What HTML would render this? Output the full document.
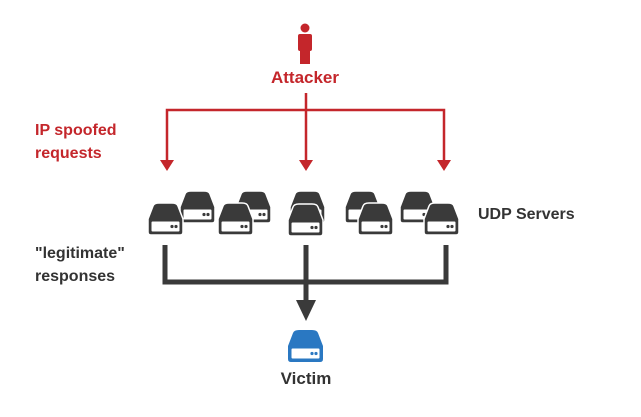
<!DOCTYPE html>
<html><head><meta charset="utf-8"><style>
body{margin:0;background:#fff;width:641px;height:412px;overflow:hidden}
text{font-family:"Liberation Sans",sans-serif;font-weight:bold}
</style></head><body>
<svg width="641" height="412" viewBox="0 0 641 412">
<defs>
<g id="srv">
<path d="M1,16 L6,3 Q7,0 12,0 H25 Q30,0 31,3 L36,16 V29 Q36,32 33,32 H4 Q1,32 1,29 Z" fill="#3a3a3a" stroke="#fff" stroke-width="1.5"/>
<rect x="4.5" y="18.5" width="28" height="10" rx="1" fill="#fff"/>
<circle cx="25" cy="23.5" r="1.6" fill="#3a3a3a"/><circle cx="29" cy="23.5" r="1.6" fill="#3a3a3a"/>
</g>
</defs>
<g fill="#c4262b">
<circle cx="305" cy="28" r="4.5"/>
<rect x="298" y="34" width="14" height="17" rx="2"/>
<rect x="300" y="48" width="10" height="16"/>
</g>
<text x="305" y="83" text-anchor="middle" font-size="17" fill="#c4262b">Attacker</text>
<g stroke="#c4262b" stroke-width="2.5" fill="none">
<path d="M306,93 V162 M167,162 V110 H444 V162"/>
</g>
<g fill="#c4262b">
<path d="M160,160 H174 L167,171 Z"/><path d="M299,160 H313 L306,171 Z"/><path d="M437,160 H451 L444,171 Z"/>
</g>
<text x="35" y="135" font-size="16" fill="#c4262b">IP spoofed</text>
<text x="35" y="158" font-size="16" fill="#c4262b">requests</text>
<use href="#srv" x="179" y="191"/><use href="#srv" x="147" y="203"/>
<use href="#srv" x="235" y="191"/><use href="#srv" x="217" y="203"/>
<use href="#srv" x="289" y="191"/><use href="#srv" x="287" y="204"/>
<use href="#srv" x="344" y="191"/><use href="#srv" x="357" y="203"/>
<use href="#srv" x="399" y="191"/><use href="#srv" x="423" y="203"/>
<text x="478" y="219" font-size="16" fill="#333">UDP Servers</text>
<text x="35" y="258" font-size="16" fill="#333">"legitimate"</text>
<text x="35" y="281" font-size="16" fill="#333">responses</text>
<g stroke="#3a3a3a" stroke-width="5" fill="none">
<path d="M165,245 V282 H446 V245 M306,245 V302"/>
</g>
<path d="M296,300 H316 L306,321 Z" fill="#3a3a3a"/>
<g transform="translate(287,330)">
<path d="M1,16 L6,3 Q7,0 12,0 H25 Q30,0 31,3 L36,16 V29 Q36,32 33,32 H4 Q1,32 1,29 Z" fill="#2a78c2"/>
<rect x="4.5" y="18.5" width="28" height="10" rx="1" fill="#fff"/>
<circle cx="25" cy="23.5" r="1.6" fill="#2a78c2"/><circle cx="29" cy="23.5" r="1.6" fill="#2a78c2"/>
</g>
<text x="306" y="384" text-anchor="middle" font-size="17" fill="#333">Victim</text>
</svg>
</body></html>
